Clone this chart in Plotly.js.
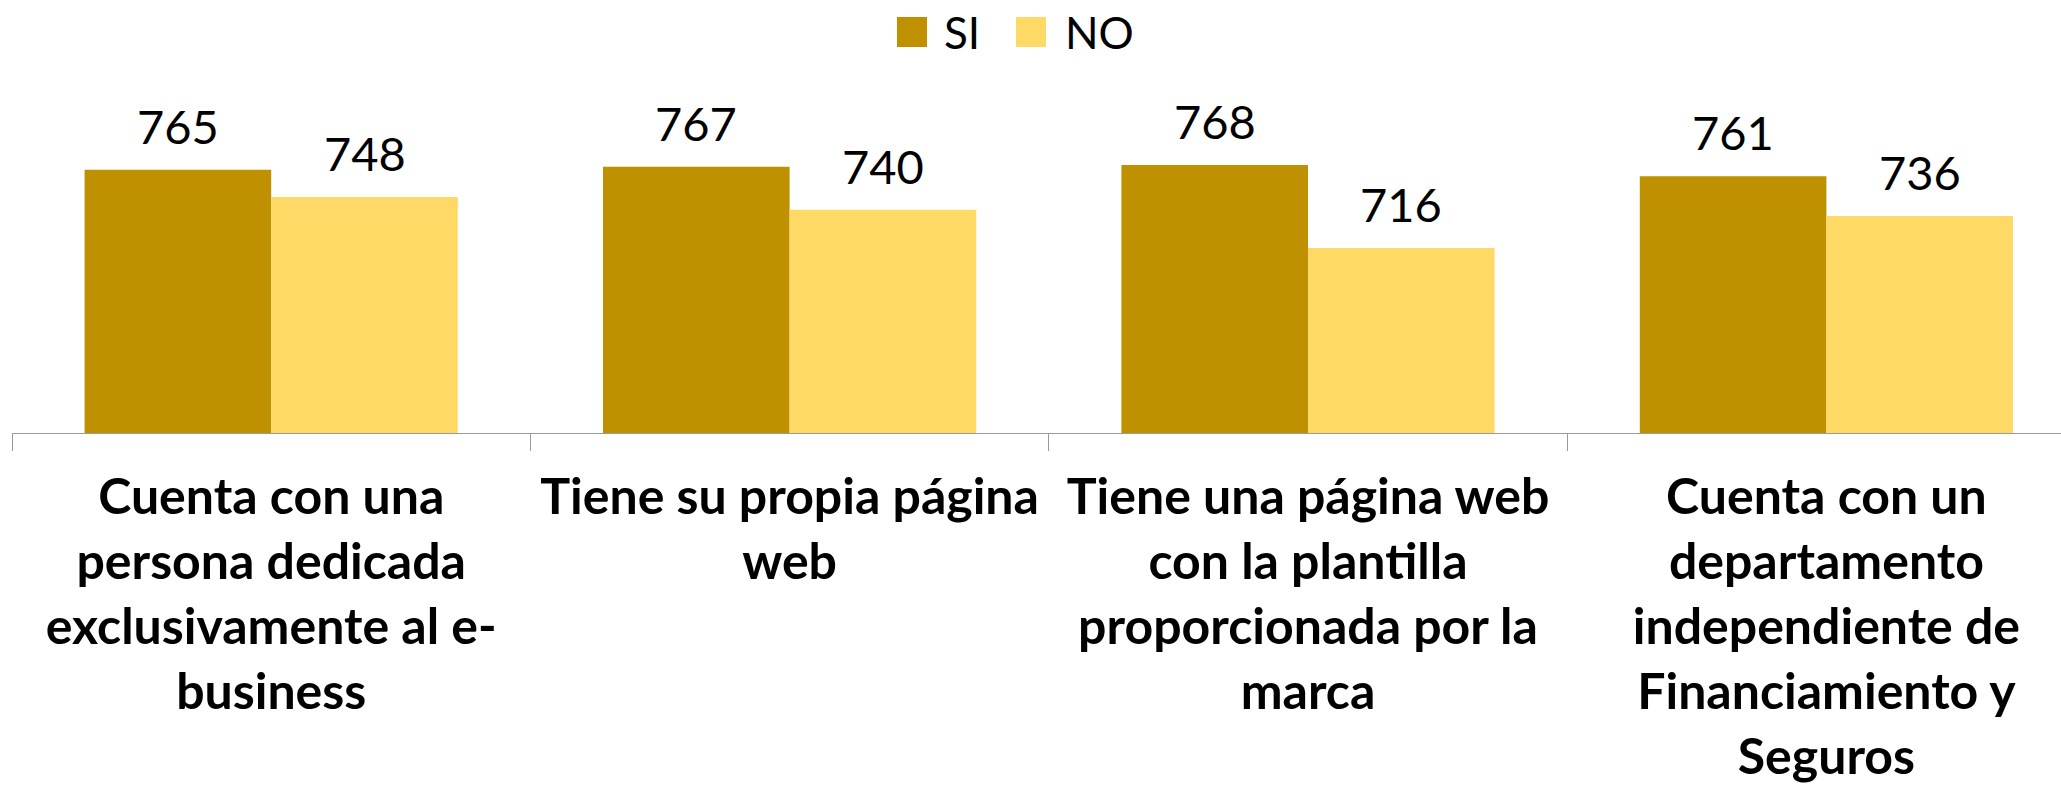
<!DOCTYPE html>
<html>
<head>
<meta charset="utf-8">
<script src="https://cdn.plot.ly/plotly-3.0.1.min.js"></script>
<style>html,body{margin:0;padding:0;background:#fff;}#chart{width:2061px;height:786px;}</style>
</head>
<body>
<div id="chart"></div>
<script>
// ---- data ----
const categories = [
  "Cuenta con una<br>persona dedicada<br>exclusivamente al e-<br>business",
  "Tiene su propia página<br>web",
  "Tiene una página web<br>con la plantilla<br>proporcionada por la<br>marca",
  "Cuenta con un<br>departamento<br>independiente de<br>Financiamiento y<br>Seguros"
];
const seriesNames = ["SI", "NO"];
const siValues = [765, 767, 768, 761];
const noValues = [748, 740, 716, 736];
const seriesColors = ["#BF9000", "#FFD966"];

// ---- layout geometry (pixels) ----
const W = 2061, H = 786;
const plotLeft = 12, plotTop = 114, plotBottom = 433;
const plotWidth = W - plotLeft;
const plotHeight = plotBottom - plotTop;
const catWidthPx = 518.4;
const bargap = 0.28;
const barWidthPx = catWidthPx * (1 - bargap) / 2;
const px2x = p => (p - plotLeft) / plotWidth;
const py2y = p => (plotBottom - p) / plotHeight;

const seriesValues = [siValues, noValues];
const traces = seriesValues.map((vals, i) => ({
  type: "bar",
  name: seriesNames[i],
  x: categories,
  y: vals,
  marker: { color: seriesColors[i], line: { width: 0 } },
  showlegend: false,
  hoverinfo: "skip"
}));

const annotations = [];
seriesValues.forEach((vals, i) => {
  vals.forEach((v, j) => {
    annotations.push({
      x: categories[j], y: v, xref: "x", yref: "y",
      text: String(v), showarrow: false,
      xanchor: "center", yanchor: "bottom",
      xshift: (i === 0 ? -1 : 1) * barWidthPx / 2,
      yshift: 14,
      font: { family: "Lato, 'Open Sans', sans-serif", size: 47, color: "#000" }
    });
  });
});

// custom legend (large square swatches)
const legendSwatchX = [897, 1016];
const legendTextX = [942, 1063];
const shapes = [];
seriesNames.forEach((n, i) => {
  shapes.push({
    type: "rect", xref: "paper", yref: "paper",
    x0: px2x(legendSwatchX[i]), x1: px2x(legendSwatchX[i] + 30),
    y0: py2y(47), y1: py2y(17),
    fillcolor: seriesColors[i], line: { width: 0 }
  });
  annotations.push({
    xref: "paper", yref: "paper",
    x: px2x(legendTextX[i]), y: py2y(32),
    xanchor: "left", yanchor: "middle",
    text: n, showarrow: false,
    font: { family: "Lato, 'Open Sans', sans-serif", size: 44, color: "#000" }
  });
});

const layout = {
  width: W, height: H,
  margin: { l: plotLeft, r: 0, t: plotTop, b: H - plotBottom, pad: 0 },
  paper_bgcolor: "#fff", plot_bgcolor: "#fff",
  barmode: "group", bargap: bargap, bargroupgap: 0,
  showlegend: false,
  xaxis: {
    type: "category",
    range: [-0.5, -0.5 + plotWidth / catWidthPx],
    tickson: "boundaries",
    ticks: "outside", ticklen: 17, tickwidth: 1, tickcolor: "#9a9a9a",
    showline: true, linecolor: "#9a9a9a", linewidth: 1,
    showgrid: false, zeroline: false,
    tickangle: 0,
    ticklabelstandoff: 20,
    tickfont: { family: "Lato, 'Open Sans', sans-serif", size: 50, color: "#000", weight: "bold" },
    fixedrange: true
  },
  yaxis: {
    range: [600, 800],
    visible: false, showgrid: false, zeroline: false,
    fixedrange: true
  },
  annotations: annotations,
  shapes: shapes
};

Plotly.newPlot("chart", traces, layout, { staticPlot: true, displayModeBar: false });
</script>
</body>
</html>
